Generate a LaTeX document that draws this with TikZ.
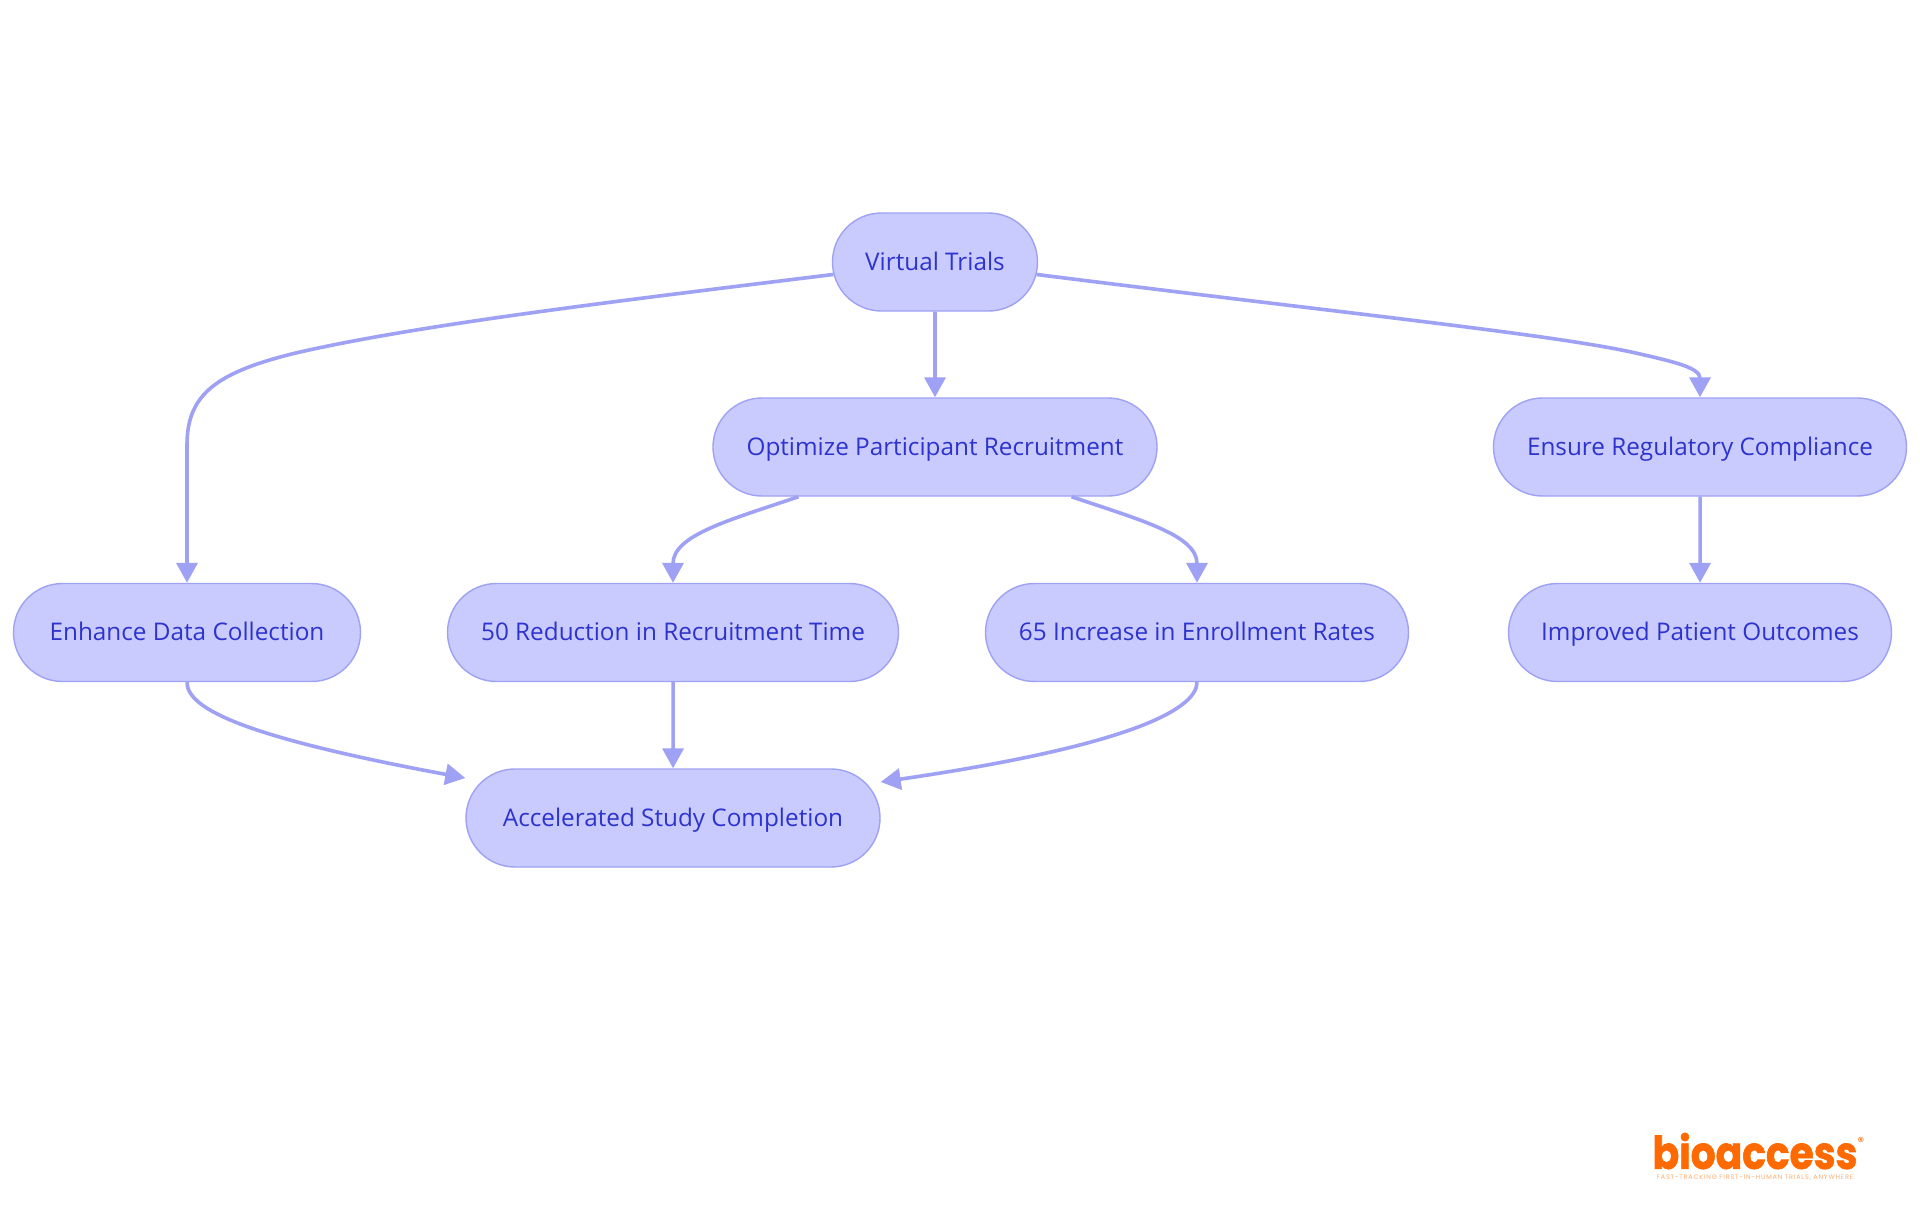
\documentclass[tikz,border=0pt]{standalone}
\usepackage{fontspec}
\setmainfont{Open Sans}
\newfontfamily\logofont[FakeBold=1.5]{Poppins}
\newfontfamily\markfont{Poppins}
\newfontfamily\tagfont[LetterSpace=12]{Poppins}
\usetikzlibrary{shapes.misc,arrows.meta,calc}
\definecolor{nodefill}{HTML}{C9CBFF}
\definecolor{edgecol}{HTML}{9EA1F4}
\definecolor{labelcol}{HTML}{2D33CC}
\definecolor{logocol}{HTML}{FF6A00}
\tikzset{
  pill/.style={rounded rectangle,draw=edgecol,line width=1.4pt,fill=nodefill,text=labelcol,
    minimum height=98pt,inner sep=0pt,text height=21pt,text depth=5pt,font=\fontsize{24.3}{28}\selectfont},
  conn/.style={draw=edgecol,line width=3.6pt,-{Triangle[length=20pt,width=21pt]}},
}
\begin{document}
\begin{tikzpicture}[x=1pt,y=-1pt]
\useasboundingbox (0,0) rectangle (1920,1215);
\fill[white] (0,0) rectangle (1920,1215);
\node[pill,minimum width=205pt] (vt) at (935,262) {Virtual Trials};
\node[pill,minimum width=444pt] (opt) at (935,447) {Optimize Participant Recruitment};
\node[pill,minimum width=413pt] (reg) at (1700,447) {Ensure Regulatory Compliance};
\node[pill,minimum width=347pt] (data) at (187,632.5) {Enhance Data Collection};
\node[pill,minimum width=451pt] (red) at (673,632.5) {50 Reduction in Recruitment Time};
\node[pill,minimum width=423pt] (inc) at (1197,632.5) {65 Increase in Enrollment Rates};
\node[pill,minimum width=383pt] (imp) at (1700,632.5) {Improved Patient Outcomes};
\node[pill,minimum width=414pt] (acc) at (673,818) {Accelerated Study Completion};
\coordinate (accL) at ($(acc.west)+(0,-40)$);
\coordinate (accR) at ($(acc.east)+(0,-36)$);
\draw[conn] (vt.187) .. controls (600,303) and (420,325) .. (300,352) .. controls (215,372) and (187,395) .. (187,445) -- (data.north);
\draw[conn] (vt) -- (opt);
\draw[conn] (vt.353) .. controls (1350,314) and (1560,335) .. (1640,354) .. controls (1675,362) and (1700,368) .. (reg.north);
\draw[conn] (opt.200) .. controls (730,520) and (673,535) .. (red.north);
\draw[conn] (opt.340.5) .. controls (1140,520) and (1197,535) .. (inc.north);
\draw[conn] (reg) -- (imp);
\draw[conn] (data.south) .. controls (187,710) and (250,738) .. (accL);
\draw[conn] (red) -- (acc);
\draw[conn] (inc.south) .. controls (1197,708) and (1135,745) .. (accR);
\node[inner sep=0pt,text=logocol,xscale=0.87,transform shape,font=\logofont\bfseries\fontsize{45}{45}\selectfont] (logo) at (1755,1151) {bioaccess};
\node[inner sep=0pt,text=logocol,font=\markfont\fontsize{13}{13}\selectfont] (mark) at (1861,1142) {®};
\node[inner sep=0pt,text=logocol!55,font=\tagfont\fontsize{6.5}{7}\selectfont] (tag) at (1755,1178) {FAST-TRACKING FIRST-IN-HUMAN TRIALS, ANYWHERE};
\end{tikzpicture}
\end{document}
